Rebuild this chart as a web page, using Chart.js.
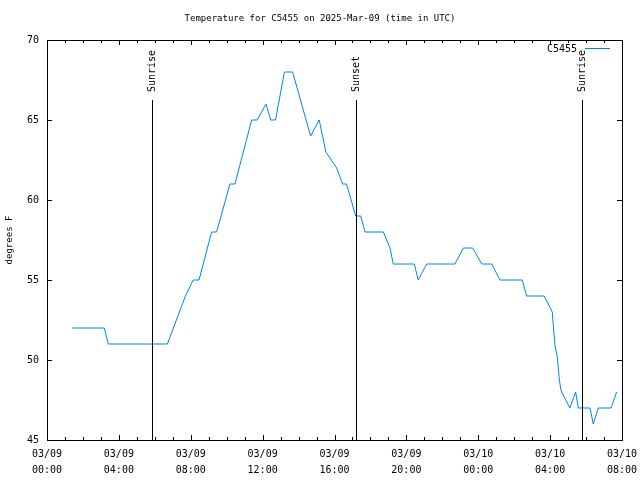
<!DOCTYPE html>
<html>
<head>
<meta charset="utf-8">
<script src="https://cdn.jsdelivr.net/npm/chart.js@4.4.1/dist/chart.umd.min.js"></script>
<style>
  body { margin: 0; background: #fff; }
  canvas { display: block; }
</style>
</head>
<body>
<canvas id="temp-chart" width="640" height="480"></canvas>
<script>
// hours since 03/09 00:00 UTC
const hours = [1.41, 3.19, 3.41, 6.70, 7.70, 8.14, 8.46, 9.16, 9.44, 10.18, 10.46, 11.39, 11.70, 12.19,
    12.45, 12.72, 13.21, 13.67, 14.67, 15.15, 15.52, 16.12, 16.45, 16.67, 17.18, 17.46, 17.70, 18.72,
    19.09, 19.27, 20.44, 20.66, 21.13, 22.70, 23.17, 23.69, 24.19, 24.75, 25.21, 26.45, 26.69, 27.66,
    27.99, 28.12, 28.18, 28.27, 28.40, 28.51, 28.59, 28.64, 28.83, 29.10, 29.42, 29.57, 30.22, 30.40,
    30.68, 31.39, 31.70];
const temps = [52, 52, 51, 51, 54, 55, 55, 58, 58, 61, 61, 65, 65, 66,
    65, 65, 68, 68, 64, 65, 63, 62, 61, 61, 59, 59, 58, 58,
    57, 56, 56, 55, 56, 56, 57, 57, 56, 56, 55, 55, 54, 54,
    53.3, 53, 52.1, 50.9, 50.2, 48.8, 48.2, 48, 47.6, 47, 48, 47, 47, 46,
    47, 47, 48];

const eventNames = ["Sunrise", "Sunset", "Sunrise"];
const eventHours = [5.85, 17.21, 29.79];

const tickDates = ["03/09", "03/09", "03/09", "03/09", "03/09", "03/09", "03/10", "03/10", "03/10"];
const tickTimes = ["00:00", "04:00", "08:00", "12:00", "16:00", "20:00", "00:00", "04:00", "08:00"];

const FONT = '"DejaVu Sans Mono", monospace';

const overlay = {
    id: 'overlay',
    afterDraw(chart) {
        const { ctx, chartArea: a, scales: { x, y } } = chart;
        ctx.save();
        ctx.strokeStyle = '#000';
        ctx.lineWidth = 1;
        const seg = (x1, y1, x2, y2) => {
            ctx.beginPath();
            ctx.moveTo(x1, y1);
            ctx.lineTo(x2, y2);
            ctx.stroke();
        };
        // frame
        ctx.strokeRect(Math.round(a.left) + 0.5, Math.round(a.top) + 0.5,
            Math.round(a.right - a.left), Math.round(a.bottom - a.top));

        // inward ticks, major every 4h, minor every hour
        for (let h = 0; h <= 32; h++) {
            const px = Math.round(x.getPixelForValue(h)) + 0.5;
            const len = h % 4 === 0 ? 5 : 3;
            seg(px, a.bottom, px, a.bottom - len);
            seg(px, a.top, px, a.top + len);
        }
        for (let v = 45; v <= 70; v += 5) {
            const py = Math.round(y.getPixelForValue(v)) + 0.5;
            seg(a.left, py, a.left + 5, py);
            seg(a.right, py, a.right - 5, py);
        }

        // sunrise / sunset markers
        ctx.font = '10px ' + FONT;
        ctx.fillStyle = '#000';
        eventHours.forEach((h, i) => {
            const px = Math.round(x.getPixelForValue(h)) + 0.5;
            seg(px, 100, px, a.bottom);
            ctx.save();
            ctx.translate(px, 92);
            ctx.rotate(-Math.PI / 2);
            ctx.textAlign = 'left';
            ctx.textBaseline = 'middle';
            ctx.fillText(eventNames[i], 0, 0);
            ctx.restore();
        });

        // key
        ctx.textAlign = 'right';
        ctx.textBaseline = 'middle';
        ctx.fillText('C5455', 577, 49);
        ctx.strokeStyle = 'rgb(0,128,255)';
        seg(585, 48.5, 610, 48.5);

        // title
        ctx.font = '9px ' + FONT;
        ctx.fillStyle = '#000';
        ctx.textAlign = 'center';
        ctx.fillText('Temperature for C5455 on 2025-Mar-09 (time in UTC)', 320, 19);
        ctx.restore();
    }
};

new Chart(document.getElementById('temp-chart'), {
    type: 'line',
    data: {
        datasets: [{
            label: 'C5455',
            data: hours.map((h, i) => ({ x: h, y: temps[i] })),
            borderColor: 'rgb(0,128,255)',
            borderWidth: 1,
            pointRadius: 0,
            tension: 0,
            fill: false
        }]
    },
    options: {
        responsive: false,
        animation: false,
        layout: { padding: { top: 40, right: 18, left: 0, bottom: 0 } },
        plugins: {
            legend: { display: false },
            title: { display: false },
            tooltip: { enabled: false }
        },
        scales: {
            x: {
                type: 'linear',
                min: 0,
                max: 32,
                grid: { display: false, drawTicks: false },
                border: { display: false },
                afterFit: s => {
                    s.height = 40;
                    s.paddingLeft = 0;
                    s.paddingRight = 0;
                },
                ticks: {
                    stepSize: 4,
                    maxRotation: 0,
                    autoSkip: false,
                    padding: 6,
                    color: '#000',
                    font: { family: FONT, size: 10, lineHeight: 1.6 },
                    callback: v => [tickDates[v / 4], tickTimes[v / 4]]
                }
            },
            y: {
                min: 45,
                max: 70,
                grid: { display: false, drawTicks: false },
                border: { display: false },
                afterFit: s => { s.width = 47; },
                title: {
                    display: true,
                    text: 'degrees F',
                    color: '#000',
                    padding: { top: 4, bottom: 0 },
                    font: { family: FONT, size: 9 }
                },
                ticks: {
                    stepSize: 5,
                    padding: 8,
                    color: '#000',
                    font: { family: FONT, size: 10 }
                }
            }
        }
    },
    plugins: [overlay]
});
</script>
</body>
</html>
